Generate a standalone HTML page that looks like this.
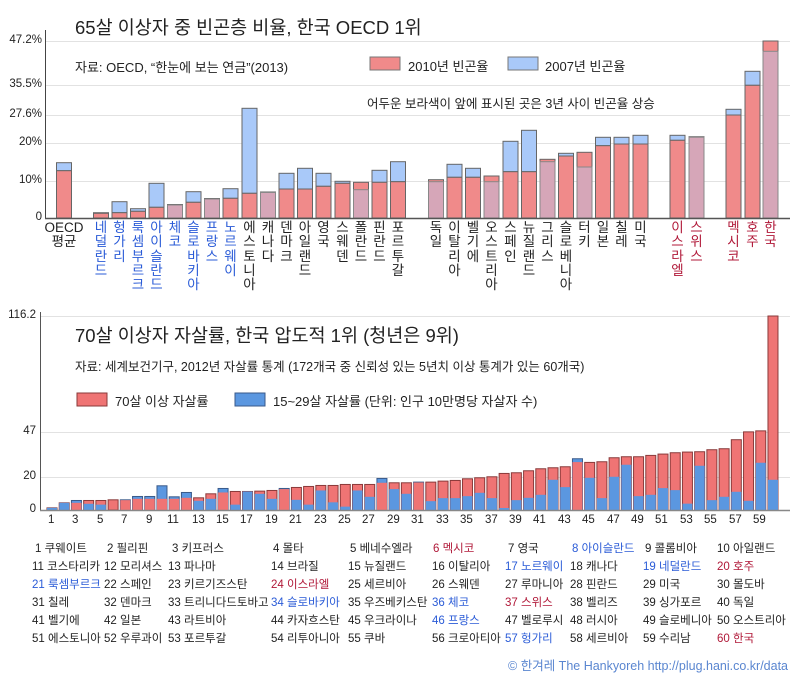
<!DOCTYPE html>
<html><head><meta charset="utf-8"><style>
body{margin:0;width:800px;height:680px;background:#fff;overflow:hidden;font-family:"Liberation Sans","Noto Sans CJK KR",sans-serif;position:relative;color:#222}
.a{position:absolute;white-space:nowrap}
.vl{position:absolute;top:221px;width:16px;margin-left:-8px;text-align:center;font-size:13.5px;line-height:14.3px}
.b{color:#2a5bd7}.r{color:#b01838}
.row{position:absolute;left:0;font-size:11.5px;white-space:nowrap}
.row span{position:absolute}
</style></head><body>
<svg id="s" class="a" style="left:0;top:0" width="800" height="680" xmlns="http://www.w3.org/2000/svg">
<g stroke="#e2e2e2" stroke-width="1">
<line x1="46" x2="790" y1="41.5" y2="41.5"/><line x1="46" x2="790" y1="85.5" y2="85.5"/><line x1="46" x2="790" y1="115.5" y2="115.5"/><line x1="46" x2="790" y1="143.5" y2="143.5"/><line x1="46" x2="790" y1="181.5" y2="181.5"/>
<line x1="41" x2="790" y1="316.5" y2="316.5"/><line x1="41" x2="790" y1="432.5" y2="432.5"/><line x1="41" x2="790" y1="477.5" y2="477.5"/>
</g>
<g id="bars"></g>
<line x1="45.5" x2="45.5" y1="30" y2="218" stroke="#444"/>
<line x1="45" x2="790" y1="218.5" y2="218.5" stroke="#555" stroke-width="1.5"/>
<line x1="40.5" x2="40.5" y1="312" y2="510" stroke="#555"/>
<line x1="40" x2="790" y1="510.5" y2="510.5" stroke="#888" stroke-width="1.5"/>
<rect x="370" y="57" width="30" height="13" fill="#f08a8a" stroke="#777"/>
<rect x="508" y="57" width="30" height="13" fill="#a9c9f9" stroke="#777"/>
<rect x="77" y="393" width="30" height="13" fill="#ef7474" stroke="#8a3a3a"/>
<rect x="235" y="393" width="30" height="13" fill="#5b97e0" stroke="#3a5a8a"/>
</svg>
<div class="a" style="left:75px;top:14px;font-size:18.5px">65살 이상자 중 빈곤층 비율, 한국 OECD 1위</div>
<div class="a" style="left:75px;top:57px;font-size:13px">자료: OECD, “한눈에 보는 연금”(2013)</div>
<div class="a" style="left:408px;top:56px;font-size:13px">2010년 빈곤율</div>
<div class="a" style="left:545px;top:56px;font-size:13px">2007년 빈곤율</div>
<div class="a" style="left:367px;top:93px;font-size:12.5px">어두운 보라색이 앞에 표시된 곳은 3년 사이 빈곤율 상승</div>
<div class="a" style="right:758px;top:34px;font-size:11.5px">47.2%</div>
<div class="a" style="right:758px;top:78px;font-size:11.5px">35.5%</div>
<div class="a" style="right:758px;top:108px;font-size:11.5px">27.6%</div>
<div class="a" style="right:758px;top:136px;font-size:11.5px">20%</div>
<div class="a" style="right:758px;top:174px;font-size:11.5px">10%</div>
<div class="a" style="right:758px;top:211px;font-size:11.5px">0</div>
<div class="vl" style="left:64px;width:40px;margin-left:-20px">OECD<br>평균</div>
<div class="vl b" style="left:101px">네<br>덜<br>란<br>드</div>
<div class="vl b" style="left:119.5px">헝<br>가<br>리</div>
<div class="vl b" style="left:138px">룩<br>셈<br>부<br>르<br>크</div>
<div class="vl b" style="left:156.5px">아<br>이<br>슬<br>란<br>드</div>
<div class="vl b" style="left:175px">체<br>코</div>
<div class="vl b" style="left:193.5px">슬<br>로<br>바<br>키<br>아</div>
<div class="vl b" style="left:212px">프<br>랑<br>스</div>
<div class="vl b" style="left:230.5px">노<br>르<br>웨<br>이</div>
<div class="vl" style="left:249.5px">에<br>스<br>토<br>니<br>아</div>
<div class="vl" style="left:268px">캐<br>나<br>다</div>
<div class="vl" style="left:286.5px">덴<br>마<br>크</div>
<div class="vl" style="left:305px">아<br>일<br>랜<br>드</div>
<div class="vl" style="left:323.5px">영<br>국</div>
<div class="vl" style="left:342.5px">스<br>웨<br>덴</div>
<div class="vl" style="left:361px">폴<br>란<br>드</div>
<div class="vl" style="left:379.5px">핀<br>란<br>드</div>
<div class="vl" style="left:398px">포<br>르<br>투<br>갈</div>
<div class="vl" style="left:436px">독<br>일</div>
<div class="vl" style="left:454.5px">이<br>탈<br>리<br>아</div>
<div class="vl" style="left:473px">벨<br>기<br>에</div>
<div class="vl" style="left:491.5px">오<br>스<br>트<br>리<br>아</div>
<div class="vl" style="left:510.5px">스<br>페<br>인</div>
<div class="vl" style="left:529px">뉴<br>질<br>랜<br>드</div>
<div class="vl" style="left:547.5px">그<br>리<br>스</div>
<div class="vl" style="left:566px">슬<br>로<br>베<br>니<br>아</div>
<div class="vl" style="left:584.5px">터<br>키</div>
<div class="vl" style="left:603px">일<br>본</div>
<div class="vl" style="left:621.5px">칠<br>레</div>
<div class="vl" style="left:640.5px">미<br>국</div>
<div class="vl r" style="left:677.5px">이<br>스<br>라<br>엘</div>
<div class="vl r" style="left:696.5px">스<br>위<br>스</div>
<div class="vl r" style="left:733.5px">멕<br>시<br>코</div>
<div class="vl r" style="left:752.5px">호<br>주</div>
<div class="vl r" style="left:770.5px">한<br>국</div>

<div class="a" style="left:75px;top:322px;font-size:18.5px">70살 이상자 자살률, 한국 압도적 1위 (청년은 9위)</div>
<div class="a" style="left:75px;top:356px;font-size:12.5px">자료: 세계보건기구, 2012년 자살률 통계 (172개국 중 신뢰성 있는 5년치 이상 통계가 있는 60개국)</div>
<div class="a" style="left:115px;top:391px;font-size:13px">70살 이상 자살률</div>
<div class="a" style="left:273px;top:391px;font-size:13px">15~29살 자살률 (단위: 인구 10만명당 자살자 수)</div>
<div class="a" style="right:764px;top:309px;font-size:11.5px">116.2</div>
<div class="a" style="right:764px;top:425px;font-size:11.5px">47</div>
<div class="a" style="right:764px;top:470px;font-size:11.5px">20</div>
<div class="a" style="right:764px;top:503px;font-size:11.5px">0</div>
<div class="a" style="left:0;top:514px;font-size:11.5px;width:800px;height:16px">
<span class="a" style="left:48px">1</span><span class="a" style="left:72px">3</span><span class="a" style="left:97px">5</span><span class="a" style="left:121px">7</span><span class="a" style="left:146px">9</span><span class="a" style="left:167px">11</span><span class="a" style="left:192px">13</span><span class="a" style="left:216px">15</span><span class="a" style="left:240px">17</span><span class="a" style="left:265px">19</span><span class="a" style="left:289px">21</span><span class="a" style="left:314px">23</span><span class="a" style="left:338px">25</span><span class="a" style="left:362px">27</span><span class="a" style="left:387px">29</span><span class="a" style="left:411px">31</span><span class="a" style="left:436px">33</span><span class="a" style="left:460px">35</span><span class="a" style="left:485px">37</span><span class="a" style="left:509px">39</span><span class="a" style="left:533px">41</span><span class="a" style="left:558px">43</span><span class="a" style="left:582px">45</span><span class="a" style="left:607px">47</span><span class="a" style="left:631px">49</span><span class="a" style="left:655px">51</span><span class="a" style="left:680px">53</span><span class="a" style="left:704px">55</span><span class="a" style="left:729px">57</span><span class="a" style="left:753px">59</span>
</div>
<div class="row" style="top:540px"><span style="left:35px">1 쿠웨이트</span><span style="left:107px">2 필리핀</span><span style="left:172px">3 키프러스</span><span style="left:273px">4 몰타</span><span style="left:350px">5 베네수엘라</span><span class="r" style="left:433px">6 멕시코</span><span style="left:508px">7 영국</span><span class="b" style="left:572px">8 아이슬란드</span><span style="left:645px">9 콜롬비아</span><span style="left:717px">10 아일랜드</span></div>
<div class="row" style="top:558px"><span style="left:32px">11 코스타리카</span><span style="left:104px">12 모리셔스</span><span style="left:168px">13 파나마</span><span style="left:271px">14 브라질</span><span style="left:348px">15 뉴질랜드</span><span style="left:432px">16 이탈리아</span><span class="b" style="left:505px">17 노르웨이</span><span style="left:570px">18 캐나다</span><span class="b" style="left:643px">19 네덜란드</span><span class="r" style="left:717px">20 호주</span></div>
<div class="row" style="top:576px"><span class="b" style="left:32px">21 룩셈부르크</span><span style="left:104px">22 스페인</span><span style="left:168px">23 키르기즈스탄</span><span class="r" style="left:271px">24 이스라엘</span><span style="left:348px">25 세르비아</span><span style="left:432px">26 스웨덴</span><span style="left:505px">27 루마니아</span><span style="left:570px">28 핀란드</span><span style="left:643px">29 미국</span><span style="left:717px">30 몰도바</span></div>
<div class="row" style="top:594px"><span style="left:32px">31 칠레</span><span style="left:104px">32 덴마크</span><span style="left:168px">33 트리니다드토바고</span><span class="b" style="left:271px">34 슬로바키아</span><span style="left:348px">35 우즈베키스탄</span><span class="b" style="left:432px">36 체코</span><span class="r" style="left:505px">37 스위스</span><span style="left:570px">38 벨리즈</span><span style="left:643px">39 싱가포르</span><span style="left:717px">40 독일</span></div>
<div class="row" style="top:612px"><span style="left:32px">41 벨기에</span><span style="left:104px">42 일본</span><span style="left:168px">43 라트비아</span><span style="left:271px">44 카자흐스탄</span><span style="left:348px">45 우크라이나</span><span class="b" style="left:432px">46 프랑스</span><span style="left:505px">47 벨로루시</span><span style="left:570px">48 러시아</span><span style="left:643px">49 슬로베니아</span><span style="left:717px">50 오스트리아</span></div>
<div class="row" style="top:630px"><span style="left:32px">51 에스토니아</span><span style="left:104px">52 우루과이</span><span style="left:168px">53 포르투갈</span><span style="left:271px">54 리투아니아</span><span style="left:348px">55 쿠바</span><span style="left:432px">56 크로아티아</span><span class="b" style="left:505px">57 헝가리</span><span style="left:570px">58 세르비아</span><span style="left:643px">59 수리남</span><span class="r" style="left:717px">60 한국</span></div>
<div class="a" style="right:12px;top:655px;font-size:12.5px;color:#5a86d0">© 한겨레 The Hankyoreh http://plug.hani.co.kr/data</div>
<script>
var g=document.getElementById('bars'),NS='http://www.w3.org/2000/svg';
function R(x,y,w,h,f,s){if(h<=0)return;var r=document.createElementNS(NS,'rect');r.setAttribute('x',x);r.setAttribute('y',y);r.setAttribute('width',w);r.setAttribute('height',h);r.setAttribute('fill',f);if(s){r.setAttribute('stroke',s);r.setAttribute('stroke-width','1');}g.appendChild(r);}
var T=[[64,170.7,162.7],[101,213.3,212.7],[119.5,212.7,201.7],[138,211.3,208.7],[156.5,207.3,183.3],[175,204.5,205],[193.5,202.3,191.7],[212,198.5,199],[230.5,198.3,188.7],[249.5,193.3,108.3],[268,192,192.5],[286.5,189,173.3],[305,189,168.3],[323.5,186.3,173.3],[342.5,183.3,181.3],[361,182.3,189.7],[379.5,182.3,170.3],[398,181.7,161.7],[436,179.7,181.7],[454.5,177.3,164.3],[473,177.3,168.3],[491.5,176,181.7],[510.5,171.7,141.3],[529,171.7,130.3],[547.5,159.3,161.7],[566,156,153.3],[584.5,152.3,167],[603,145.7,137.3],[621.5,144,137.3],[640.5,144,135.3],[677.5,140.3,135.3],[696.5,136.7,137.2],[733.5,115,109.3],[752.5,85.3,71.3],[770.5,41,51.3]];
T.forEach(function(t){var x=t[0]-7.5,w=15,B=218,r=t[1],b=t[2];
 if(b<r){R(x,b,w,r-b,'#a9c9f9','#666');R(x,r,w,B-r,'#f08a8a','#666');}
 else{R(x,r,w,B-r,'#f08a8a','#666');R(x,b,w,B-b,'#d6a6b8','#888');}});
var D=[[1.3,1.3],[4.3,4.3],[4.3,5.7],[5.7,3.7],[5.7,3.2],[6.1,0],[5.9,6.1],[6.7,8.1],[6.7,8.1],[6.7,14.5],[6.7,7.9],[7.3,10.5],[7.3,5.5],[9.7,6.7],[10.5,12.9],[11.1,3.2],[11.1,11.1],[11.3,9.7],[11.7,6.7],[12.5,12.9],[13.5,6.1],[14.1,3.2],[14.7,11.7],[14.7,4.6],[15.3,2],[15.3,11.7],[15.3,7.9],[16.3,18.9],[16.3,12.5],[16.3,9.7],[16.5,16.7],[16.7,5.3],[17.3,7.1],[17.7,7.1],[18.7,8.3],[19.3,10.3],[19.9,7.1],[21.9,1.2],[22.3,5.9],[23.5,7.3],[24.7,9.1],[25.3,18.1],[25.9,13.7],[28.7,30.7],[28.5,19.3],[28.9,7.1],[31.3,19.9],[31.9,27.1],[31.9,8.3],[32.7,9.1],[33.5,13.1],[34.3,11.9],[34.7,3.8],[34.9,26.5],[36.1,5.9],[36.7,7.9],[42.1,10.9],[46.8,5.5],[47.4,28.3],[116.2,18.1]];
var k=(510-316)/116.2;
D.forEach(function(d,i){var c=52+i*12.22,x=c-5,w=10,B=510,r=d[0]*k,b=d[1]*k;
 var RC='#ef7474',BC='#5b97e0';
 if(r>=b){R(x,B-r,w,r,RC,'#8a3a3a');R(x,B-b,w,b,BC);}
 else{R(x,B-b,w,b,BC,'#3a5a8a');R(x,B-r,w,r,RC);}});
</script>
</body></html>
